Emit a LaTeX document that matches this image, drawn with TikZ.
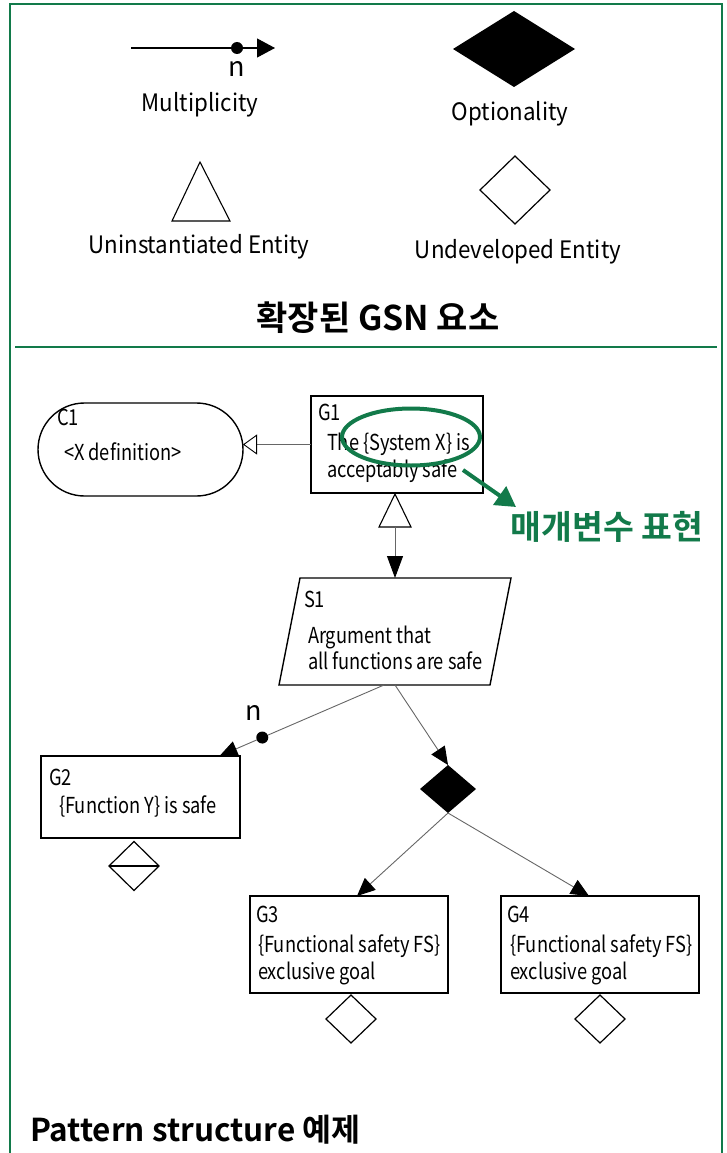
\documentclass[tikz,border=0pt]{standalone}
\usepackage{fontspec}
\setmainfont{Noto Sans CJK KR}[BoldFont={Noto Sans CJK KR Bold}]
\newfontfamily\boxfont[FakeStretch=0.83]{Noto Sans CJK KR}
\newfontfamily\legfont[FakeStretch=0.93]{Noto Sans CJK KR}
\usetikzlibrary{arrows.meta,shapes.geometric,shapes.misc,calc}
\definecolor{gsngreen}{RGB}{18,122,74}

\begin{document}
\begin{tikzpicture}[x=1pt,y=-1pt,
  every node/.style={inner sep=0pt,outer sep=0pt},
  frameline/.style={draw=gsngreen,line width=2.6},
  legendtext/.style={font=\legfont\fontsize{24}{28}\selectfont},
  multn/.style={font=\fontsize{27}{30}\selectfont},
  titletext/.style={font=\bfseries\fontsize{34}{38}\selectfont},
  annot/.style={font=\bfseries\fontsize{33.5}{38}\selectfont,text=gsngreen},
  idtext/.style={font=\boxfont\fontsize{22}{27}\selectfont},
  bodytext/.style={font=\boxfont\fontsize{22}{27}\selectfont,align=left},
  goalbox/.style={draw=black,line width=1.4,rectangle},
  ctxbox/.style={draw=black,line width=1.4,rounded rectangle},
  solbox/.style={draw=black,line width=1.2,diamond},
  optbox/.style={fill=black,diamond},
  dotnode/.style={circle,fill=black,minimum size=12},
  shapeline/.style={draw=black,line width=1.1},
  conn/.style={draw=black!60,line width=0.9},
  arr/.style={-{Triangle[length=18,width=16,color=black]}},
]
\useasboundingbox (0,0) rectangle (727,1153);

% outer frame and divider
\draw[frameline] (10,1153) -- (10,4) -- (722,4) -- (722,1153);
\draw[frameline] (15,347) -- (717,347);

% ---- legend of extended GSN elements ----
\coordinate (mstart) at (131,48);
\coordinate (mend) at (275,48);
\draw[draw=black,line width=1.1,-{Triangle[length=18,width=19]}] (mstart) -- (mend);
\node[dotnode] (mdot) at (237,48) {};
\node[multn] (mn) at (237,69) {n};
\node[legendtext] (mlab) at (200,105) {Multiplicity};

\node[optbox,minimum width=122,minimum height=76] (optleg) at (514,49) {};
\node[legendtext] (optlab) at (510,114) {Optionality};

\coordinate (ua) at (200,162);
\coordinate (ub) at (230,221);
\coordinate (uc) at (172,221);
\draw[shapeline] (ua) -- (ub) -- (uc) -- cycle;
\node[legendtext] (ulab) at (199,247) {Uninstantiated Entity};

\node[solbox,minimum width=70,minimum height=68] (undleg) at (515,190) {};
\node[legendtext] (udlab) at (518,252) {Undeveloped Entity};

\node[titletext] (title1) at (378,318) {확장된 GSN 요소};

% ---- pattern structure ----
% context
\node[ctxbox,minimum width=205,minimum height=93] (C1) at (140.5,449.5) {};
\node[idtext,anchor=base west] (C1id) at (57,425) {C1};
\node[bodytext,anchor=base west] (C1t) at (64,460) {<X definition>};

% top goal
\node[goalbox,minimum width=172,minimum height=97] (G1) at (397,444.5) {};
\node[idtext,anchor=base west] (G1id) at (318,420) {G1};
\node[bodytext,anchor=north west] (G1t) at (327,433) {The \{System X\} is\\acceptably safe};
\draw[conn,-{Triangle[open,length=14,width=20,color=black]}] (G1.west) -- (G1.west -| C1.east);

% highlighted parameter
\node[draw=gsngreen,line width=4,ellipse,minimum width=138,minimum height=57] (hl) at (411,437) {};
\coordinate (ga0) at (463,470);
\coordinate (ga1) at (516,507);
\draw[draw=gsngreen,line width=4,-{Triangle[length=20,width=22]}] (ga0) -- (ga1);
\node[annot] (hlab) at (607,527) {매개변수 표현};

% uninstantiated link to strategy
\coordinate (ut) at (395,494);
\coordinate (utr) at (411,527);
\coordinate (utl) at (379,527);
\coordinate (utb) at (395,527);
\draw[shapeline,fill=white] (ut) -- (utr) -- (utl) -- cycle;

% strategy (parallelogram drawn on the node's frame)
\node[minimum width=211,minimum height=107] (S1) at (395,631.5) {};
\draw[draw=black,line width=1.4]
  ([xshift=10.5]S1.north west) -- ([xshift=10.5]S1.north east) --
  ([xshift=-10.5]S1.south east) -- ([xshift=-10.5]S1.south west) -- cycle;
\node[idtext,anchor=base west] (S1id) at (304,607) {S1};
\node[bodytext,anchor=north west,font=\boxfont\fontsize{22}{26}\selectfont] (S1t) at (308,626) {Argument that\\all functions are safe};
\draw[conn,-{Triangle[length=22,width=16,color=black]}] (utb) -- (utb |- S1.north);

% multiplicity link to G2
\node[goalbox,minimum width=199,minimum height=82] (G2) at (140.5,797) {};
\node[idtext,anchor=base west] (G2id) at (49,785) {G2};
\node[bodytext,anchor=base west] (G2t) at (59,813) {\{Function Y\} is safe};
\coordinate (S1l) at ([xshift=-11]S1.south);
\coordinate (G2in) at ([xshift=79]G2.north);
\node[dotnode] (ndot) at ($(S1l)!0.74!(G2in)$) {};
\draw[conn] (S1l) -- (ndot);
\draw[conn,arr] (ndot) -- (G2in);
\node[multn] (nlab) at (254,713) {n};

\node[solbox,minimum width=50,minimum height=49] (G2u) at (134,866) {};
\draw[shapeline] (G2u.west) -- (G2u.east);

% optional choice
\node[optbox,minimum width=56,minimum height=48] (opt) at (448,789) {};
\draw[conn,arr] (S1.south) -- (opt.north);

\node[goalbox,minimum width=198,minimum height=97] (G3) at (349,944.5) {};
\node[idtext,anchor=base west] (G3id) at (256,922) {G3};
\node[bodytext,anchor=north west] (G3t) at (258,935) {\{Functional safety FS\}\\exclusive goal};

\node[goalbox,minimum width=198,minimum height=97] (G4) at (600,944.5) {};
\node[idtext,anchor=base west] (G4id) at (507,922) {G4};
\node[bodytext,anchor=north west] (G4t) at (510,935) {\{Functional safety FS\}\\exclusive goal};

\draw[conn,arr] (opt.south) -- ([xshift=8]G3.north);
\draw[conn,arr] (opt.south) -- ([xshift=-11]G4.north);

\node[solbox,minimum width=50,minimum height=48] (G3u) at (351,1019) {};
\node[solbox,minimum width=50,minimum height=48] (G4u) at (600,1019) {};

\node[titletext,font=\bfseries\fontsize{31.5}{36}\selectfont,anchor=west] (title2) at (30,1130) {Pattern structure 예제};
\end{tikzpicture}
\end{document}
